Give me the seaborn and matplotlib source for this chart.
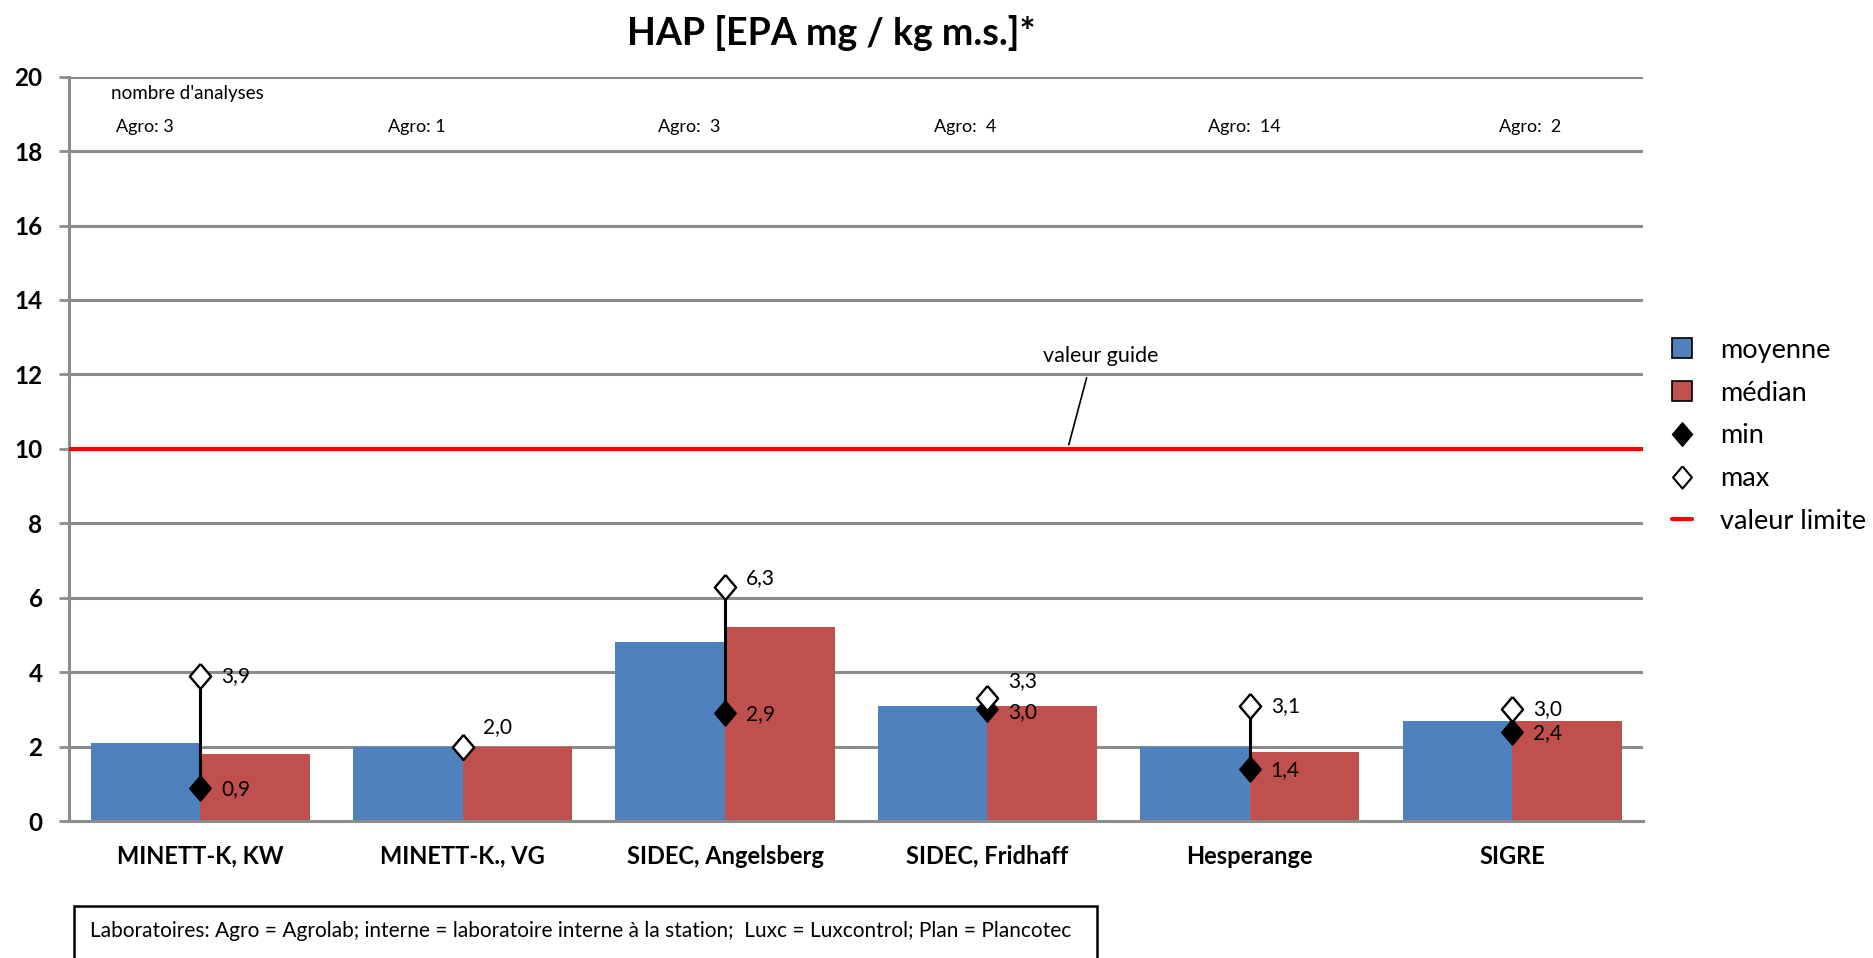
import numpy as np
import pandas as pd
import matplotlib
matplotlib.use("Agg")
import matplotlib.pyplot as plt
from matplotlib.lines import Line2D
from matplotlib.patches import Patch, Rectangle
import seaborn as sns

# ---------------- data ----------------
sites = ["MINETT-K, KW", "MINETT-K., VG", "SIDEC, Angelsberg", "SIDEC, Fridhaff", "Hesperange", "SIGRE"]
moyenne = [2.1, 2.0, 4.8, 3.1, 2.0, 2.7]
median = [1.8, 2.0, 5.2, 3.1, 1.85, 2.7]
val_min = [0.9, 2.0, 2.9, 3.0, 1.4, 2.4]
val_max = [3.9, 2.0, 6.3, 3.3, 3.1, 3.0]
analyses = ["Agro: 3", "Agro: 1", "Agro:  3", "Agro:  4", "Agro:  14", "Agro:  2"]
valeur_limite = 10
yticks = list(range(0, 21, 2))

title = "HAP [EPA mg / kg m.s.]*"
footnote = "Laboratoires: Agro = Agrolab; interne = laboratoire interne à la station;  Luxc = Luxcontrol; Plan = Plancotec"

# ---------------- layout (not data) ----------------
analyses_x = [-0.32, 0.715, 1.744, 2.795, 3.842, 4.948]
max_dy = [0, 14, 6, 12, 0, 0]      # label offsets in points
min_dy = [-1, -1, -1, -2, -1, -1]

BLUE = "#4F81BD"
RED = "#C0504D"
GRID = "#8C8C8C"

sns.set_theme(style="white")
plt.rcParams["font.family"] = ["Lato", "DejaVu Sans"]
plt.rcParams["text.color"] = "black"
plt.rcParams["axes.labelcolor"] = "black"

fig = plt.figure(figsize=(18.74, 9.58), dpi=100)
ax = fig.add_axes([0.0368, 0.143, 0.877 - 0.0368, 0.920 - 0.143])

df = pd.DataFrame({
    "site": sites * 2,
    "valeur": moyenne + median,
    "stat": ["moyenne"] * len(sites) + ["médian"] * len(sites),
})
sns.barplot(data=df, x="site", y="valeur", hue="stat", hue_order=["moyenne", "médian"],
            palette=[BLUE, RED], saturation=1, width=0.835, gap=0, errorbar=None,
            linewidth=0, legend=False, ax=ax, zorder=2)

xs = np.arange(len(sites))
diamond = [(0, 1), (0.85, 0), (0, -1), (-0.85, 0), (0, 1)]

ax.vlines(xs, val_min, val_max, color="black", lw=2.2, zorder=3)
ax.plot(xs, val_min, linestyle="none", marker=diamond, markersize=18,
        markerfacecolor="black", markeredgecolor="black", markeredgewidth=1.2, zorder=4)
ax.plot(xs, val_max, linestyle="none", marker=diamond, markersize=18,
        markerfacecolor="white", markeredgecolor="black", markeredgewidth=1.7, zorder=5)

def fmt(v):
    return f"{v:.1f}".replace(".", ",")

for i in range(len(sites)):
    ax.annotate(fmt(val_max[i]), (xs[i], val_max[i]), xytext=(15, max_dy[i]),
                textcoords="offset points", ha="left", va="center", fontsize=15, zorder=6)
    if val_min[i] != val_max[i]:
        ax.annotate(fmt(val_min[i]), (xs[i], val_min[i]), xytext=(15, min_dy[i]),
                    textcoords="offset points", ha="left", va="center", fontsize=15, zorder=6)

# limit line
ax.axhline(valeur_limite, color="#FF0000", lw=3, zorder=3)
ax.text(3.43, 12.5, "valeur guide", ha="center", va="center", fontsize=15.5)
ax.plot([3.378, 3.31], [11.91, 10.11], color="black", lw=1.2, zorder=3)

# number of analyses
ax.text(-0.34, 19.55, "nombre d'analyses", ha="left", va="center", fontsize=13.5)
for i, t in enumerate(analyses):
    ax.text(analyses_x[i], 18.66, t, ha="left", va="center", fontsize=13)

# axes styling
ax.set_xlim(-0.5, len(sites) - 0.5)
ax.set_ylim(0, 20)
ax.set_yticks(yticks)
ax.set_yticklabels([str(v) for v in yticks], fontweight="bold", fontsize=17.5)
ax.set_xticks(xs)
ax.set_xticklabels(sites, fontweight="bold", fontsize=17)
ax.set_xticks(np.arange(-0.5, len(sites), 1), minor=True)
ax.tick_params(axis="x", which="major", length=0, pad=17, labelcolor="black")
ax.tick_params(axis="x", which="minor", length=8, width=2, color=GRID, direction="out")
ax.tick_params(axis="y", which="major", length=7, width=2, color=GRID, direction="out", pad=12,
               left=True, labelcolor="black")
ax.set_xlabel("")
ax.set_ylabel("")
for y in yticks[1:]:
    ax.axhline(y, color=GRID, lw=2.2, zorder=1)
for s in ["top", "right"]:
    ax.spines[s].set_visible(False)
for s in ["left", "bottom"]:
    ax.spines[s].set_color(GRID)
    ax.spines[s].set_linewidth(2.2)

fig.text(0.4435, 0.966, title, ha="center", va="center", fontsize=27, fontweight="bold", color="black")

# legend
handles = [
    Patch(facecolor=BLUE, edgecolor="black", linewidth=1.2, label="moyenne"),
    Patch(facecolor=RED, edgecolor="black", linewidth=1.2, label="médian"),
    Line2D([], [], linestyle="none", marker=diamond, markersize=17, markerfacecolor="black",
           markeredgecolor="black", label="min"),
    Line2D([], [], linestyle="none", marker=diamond, markersize=16, markerfacecolor="white",
           markeredgecolor="black", markeredgewidth=1.5, label="max"),
    Line2D([], [], color="#FF0000", lw=3, label="valeur limite"),
]
fig.legend(handles=handles, loc="center left", bbox_to_anchor=(0.879, 0.545),
           frameon=False, fontsize=19.5, handlelength=0.74, handleheight=0.74,
           labelspacing=0.66, handletextpad=1.05, labelcolor="black")

# footnote box
fig.patches.append(Rectangle((0.0395, -0.01), 0.546, 0.064, transform=fig.transFigure,
                             facecolor="white", edgecolor="black", lw=1.8, zorder=0))
fig.text(0.048, 0.028, footnote, ha="left", va="center", fontsize=15, color="black")

fig.savefig("out.png", dpi=100)
